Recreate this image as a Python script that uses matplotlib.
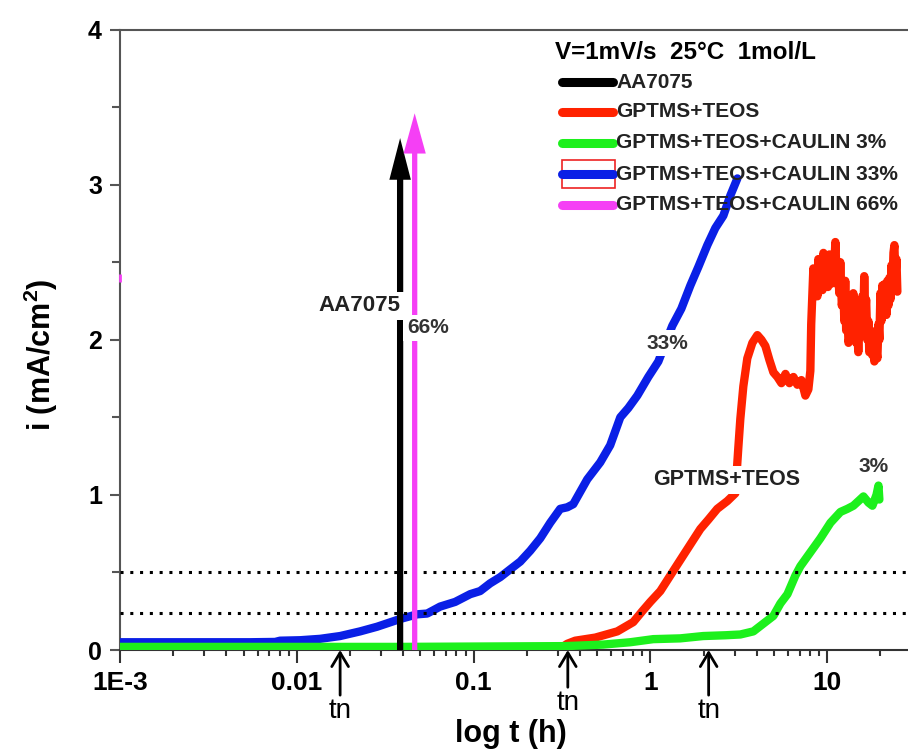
import matplotlib
matplotlib.use("Agg")
import matplotlib.pyplot as plt
from matplotlib.patches import Rectangle
from matplotlib.ticker import FixedLocator, NullFormatter

plt.rcParams['font.family'] = ['Liberation Sans', 'DejaVu Sans']
plt.rcParams['font.weight'] = 'bold'
plt.rcParams['mathtext.fontset'] = 'custom'
plt.rcParams['mathtext.rm'] = 'Liberation Sans:bold'
plt.rcParams['mathtext.bf'] = 'Liberation Sans:bold'

# ---------------- data ----------------
blue_t = [0.001, 0.00284, 0.00544, 0.00754, 0.00804, 0.01045, 0.01355, 0.01758, 0.0228, 0.02844,
          0.03843, 0.04797, 0.05463, 0.06469, 0.07865, 0.09567, 0.1089, 0.1241, 0.1415, 0.1611,
          0.1836, 0.2091, 0.2382, 0.2712, 0.3090, 0.3386, 0.3661, 0.4010, 0.4393, 0.5206,
          0.5925, 0.6757, 0.7502, 0.8434, 0.9728, 1.109, 1.330, 1.496, 1.683, 1.868,
          2.099, 2.329, 2.586, 2.833, 3.105]
blue_i = [0.05, 0.05, 0.05, 0.052, 0.06, 0.063, 0.072, 0.09, 0.12, 0.15,
          0.20, 0.23, 0.235, 0.28, 0.31, 0.36, 0.38, 0.43, 0.47, 0.52,
          0.57, 0.64, 0.72, 0.82, 0.91, 0.92, 0.94, 1.02, 1.10, 1.21,
          1.32, 1.50, 1.56, 1.64, 1.76, 1.86, 2.09, 2.20, 2.35, 2.47,
          2.61, 2.72, 2.80, 2.93, 3.04]

red_t = [0.2382, 0.309, 0.3386, 0.3757, 0.4877, 0.6497, 0.8001, 0.8995, 0.9985, 1.138,
         1.296, 1.476, 1.617, 1.916, 2.126, 2.389, 2.722, 3.022, 3.141, 3.226,
         3.355, 3.533, 3.773, 4.028, 4.245, 4.469, 4.710, 4.962, 5.229, 5.510,
         5.805, 6.115, 6.442, 6.781, 7.144, 7.526, 7.825, 8.03, 8.12, 8.35,
         8.50, 8.68, 8.80, 8.91, 9.05, 9.26, 9.40, 9.52, 9.70, 9.90,
         10.10, 10.29, 10.50, 10.70, 10.90, 11.12, 11.35, 11.56, 11.70, 11.86,
         12.10, 12.34, 12.50, 12.65, 12.80, 12.98, 13.20, 13.49, 13.65, 13.86,
         14.05, 14.22, 14.40, 14.59, 14.80, 14.99, 15.30, 15.58, 15.80, 16.00,
         16.20, 16.41, 16.60, 16.86, 17.10, 17.30, 17.65, 18.01, 18.25, 18.48,
         18.85, 19.22, 19.50, 19.73, 20.00, 20.24, 20.50, 20.78, 21.20, 21.62,
         21.90, 22.18, 22.50, 22.78, 23.10, 23.38, 23.70, 23.99, 24.30, 24.64, 24.94]
red_i = [0.0, 0.01, 0.04, 0.06, 0.08, 0.12, 0.18, 0.25, 0.31, 0.38,
         0.48, 0.58, 0.65, 0.78, 0.84, 0.91, 0.96, 1.01, 1.30, 1.49,
         1.70, 1.88, 1.98, 2.03, 2.00, 1.96, 1.87, 1.79, 1.76, 1.72,
         1.78, 1.72, 1.76, 1.71, 1.74, 1.64, 1.68, 1.80, 2.10, 2.46,
         2.30, 2.40, 2.28, 2.52, 2.34, 2.44, 2.32, 2.56, 2.38, 2.48,
         2.34, 2.55, 2.36, 2.50, 2.40, 2.63, 2.36, 2.44, 2.30, 2.50,
         2.22, 2.32, 2.12, 2.38, 2.06, 2.20, 1.98, 2.05, 2.24, 2.12,
         2.30, 2.10, 2.26, 1.98, 2.08, 1.92, 2.18, 2.02, 2.28, 2.12,
         2.41, 2.16, 2.26, 2.00, 2.12, 1.92, 2.06, 1.90, 2.00, 1.86,
         1.96, 1.88, 2.10, 2.00, 2.30, 2.12, 2.35, 2.20, 2.36, 2.16,
         2.38, 2.22, 2.40, 2.26, 2.48, 2.34, 2.56, 2.61, 2.40, 2.52, 2.31]

green_t = [0.001, 0.00544, 0.0384, 0.3296, 0.5411, 0.7686, 1.038, 1.476, 1.990, 2.652,
           3.226, 3.823, 4.355, 4.962, 5.435, 5.958, 6.610, 7.052, 8.033, 9.152,
           10.43, 11.88, 13.01, 14.06, 15.02, 16.03, 17.12, 18.02, 19.00, 19.50, 19.73]
green_i = [0.02, 0.02, 0.02, 0.025, 0.035, 0.05, 0.07, 0.075, 0.09, 0.095,
           0.10, 0.12, 0.17, 0.22, 0.30, 0.36, 0.48, 0.54, 0.63, 0.72,
           0.82, 0.89, 0.91, 0.93, 0.96, 0.99, 0.95, 0.93, 1.00, 1.06, 0.97]

# vertical jumps (AA7075 and 66%)
jump_t = [0.0384, 0.04642]
jump_top = [3.30, 3.46]
stray_t = [0.001]
stray_i = [2.40]

# critical-current levels and nucleation times
levels = [0.5, 0.24]
tn_t = [0.01758, 0.3411, 2.135]

xticks = [0.001, 0.01, 0.1, 1, 10]
xticklabels = ['1E-3', '0.01', '0.1', '1', '10']
yticks = [0, 1, 2, 3, 4]

legend_title = 'V=1mV/s  25°C  1mol/L'
legend_labels = ['AA7075', 'GPTMS+TEOS', 'GPTMS+TEOS+CAULIN 3%',
                 'GPTMS+TEOS+CAULIN 33%', 'GPTMS+TEOS+CAULIN 66%']

BLACK = '#000000'
RED = '#ff2200'
GREEN = '#1cf01c'
BLUE = '#0a1fe6'
MAGENTA = '#f53ff5'
legend_colors = [BLACK, RED, GREEN, BLUE, MAGENTA]

# ---------------- figure ----------------
W, H = 908, 756
fig = plt.figure(figsize=(W / 100, H / 100), dpi=100)
X0, Y0, AW, AH = 120, 650, 884, 620.5
ax = fig.add_axes([X0 / W, (H - Y0) / H, AW / W, AH / H])


def axx(px):
    return (px - X0) / AW


def axy(py):
    return (Y0 - py) / AH


ax.set_xscale('log')
ax.set_xlim(1e-3, 100)
ax.set_ylim(0, 4)

LW = 6.0
ax.plot(blue_t, blue_i, color=BLUE, lw=LW, solid_joinstyle='round', solid_capstyle='round', zorder=3)
ax.plot(red_t, red_i, color=RED, lw=LW, solid_joinstyle='round', solid_capstyle='round', zorder=3)
ax.plot(green_t, green_i, color=GREEN, lw=LW, solid_joinstyle='round', solid_capstyle='round', zorder=3)
ax.plot(stray_t, stray_i, marker='|', color=MAGENTA, ms=6, mew=2, clip_on=False, zorder=3)

for lv in levels:
    ax.axhline(lv, color='black', lw=2.2, dashes=(1, 2.2), zorder=4)

# vertical arrows
ax.annotate('', xy=(jump_t[0], jump_top[0]), xytext=(jump_t[0], 0),
            arrowprops=dict(arrowstyle='simple,head_length=3.0,head_width=1.55,tail_width=0.45',
                            color=BLACK, lw=0, shrinkA=0, shrinkB=0), zorder=5)
ax.annotate('', xy=(jump_t[1], jump_top[1]), xytext=(jump_t[1], 0),
            arrowprops=dict(arrowstyle='simple,head_length=2.9,head_width=1.6,tail_width=0.38',
                            color=MAGENTA, lw=0, shrinkA=0, shrinkB=0), zorder=5)

# curve labels
box = dict(facecolor='white', edgecolor='none', pad=2.5)
ax.text(0.02252, 2.218, 'AA7075', fontsize=16, ha='center', va='center', color='#222222',
        bbox=box, zorder=6)
ax.text(0.05498, 2.076, '66%', fontsize=15, ha='center', va='center', color='#333333',
        bbox=box, zorder=6)
ax.text(1.254, 1.979, '33%', fontsize=15, ha='center', va='center', color='#333333',
        bbox=box, zorder=6)
ax.text(2.689, 1.096, 'GPTMS+TEOS', fontsize=15.5, ha='center', va='center', color='#222222',
        bbox=box, zorder=6)
ax.text(18.38, 1.186, '3%', fontsize=15, ha='center', va='center', color='#333333', zorder=6)

# tn arrows below the axis
tn_text_y = [-0.309, -0.258, -0.309]
for t, ty in zip(tn_t, tn_text_y):
    ax.annotate('tn', xy=(t, 0), xytext=(t, ty), fontsize=20, fontweight='normal',
                ha='center', va='top', annotation_clip=False,
                arrowprops=dict(arrowstyle='->,head_length=0.5,head_width=0.3', lw=2,
                                color='black', shrinkA=0, shrinkB=0))

# axes styling
for side in ['left', 'top']:
    ax.spines[side].set_color('#555555')
    ax.spines[side].set_linewidth(1.5)
ax.spines['bottom'].set_color('#333333')
ax.spines['bottom'].set_linewidth(1.5)
ax.spines['right'].set_visible(False)

ax.xaxis.set_major_locator(FixedLocator(xticks))
ax.set_xticklabels(xticklabels)
minors = [m * d for d in xticks for m in range(2, 10)]
ax.xaxis.set_minor_locator(FixedLocator(minors))
ax.xaxis.set_minor_formatter(NullFormatter())
ax.set_yticks(yticks)
ax.set_yticks([0.5, 1.5, 2.5, 3.5], minor=True)
ax.tick_params(axis='x', which='major', direction='out', length=9, width=1.5,
               color='#333333', labelsize=19, pad=6)
ax.tick_params(axis='x', which='minor', direction='out', length=4.5, width=1.5, color='#333333')
ax.tick_params(axis='y', which='major', direction='out', length=7, width=1.5,
               color='#555555', labelsize=18, pad=6)
ax.tick_params(axis='y', which='minor', direction='out', length=6, width=1.5, color='#555555')
ax.tick_params(top=False, right=False, which='both')

ax.set_xlabel('log t (h)', fontsize=22, fontweight='bold')
ax.xaxis.set_label_coords(axx(511), axy(719))
ax.set_ylabel('i (mA/cm$^{\\mathbf{2}}$)', fontsize=22, fontweight='bold')
ax.yaxis.set_label_coords(axx(60), axy(355))

# legend drawn in axes coordinates
ax.text(axx(555), axy(52.5), legend_title, transform=ax.transAxes, fontsize=17.5,
        ha='left', va='center', zorder=7)
row_y = [82, 111.5, 143, 174, 205]
for yy, lab, col in zip(row_y, legend_labels, legend_colors):
    ax.plot([axx(562), axx(613)], [axy(yy), axy(yy)], transform=ax.transAxes, color=col,
            lw=6.5, solid_capstyle='round', clip_on=False, zorder=7)
    ax.text(axx(616), axy(yy), lab, transform=ax.transAxes, fontsize=15, ha='left',
            va='center', color='#222222', zorder=7)
ax.add_patch(Rectangle((axx(562), axy(188)), axx(615) - axx(562), axy(160) - axy(188),
                       transform=ax.transAxes, fill=False, edgecolor='#ee2222', lw=1.2,
                       clip_on=False, zorder=6))

fig.savefig('out.png', dpi=100)
